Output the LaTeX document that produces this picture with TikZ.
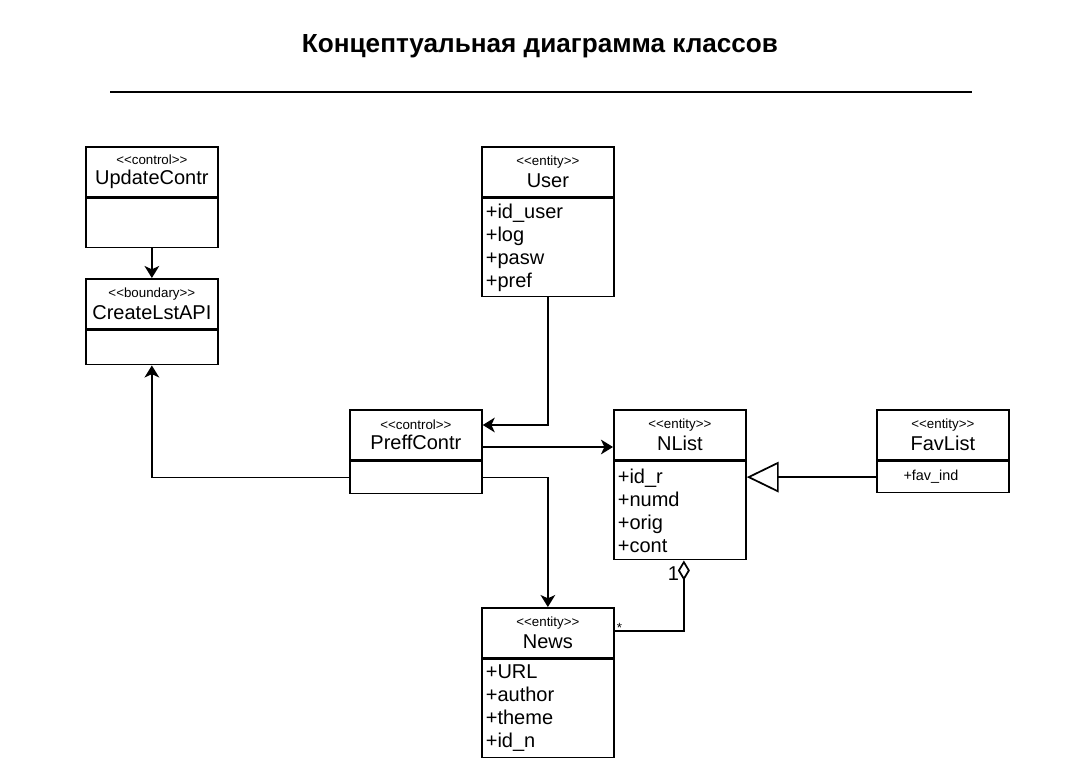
\documentclass[tikz,border=0pt]{standalone}
\usepackage{fontspec}
\setmainfont{Liberation Sans}
\newfontfamily\umlfont{Liberation Sans}
\usepackage{tikz}
\usetikzlibrary{arrows.meta, positioning, calc}

% class header: stereotype over class name
\newcommand{\umlhead}[2]{{\umlfont\fontsize{10}{12}\selectfont <<#1>>}\\[3pt]{\fontsize{15}{18}\selectfont #2}}

\begin{document}
\begin{tikzpicture}[
    x=0.75pt, y=-0.75pt,
    line width=1.3pt,
    head/.style={draw, rectangle, anchor=north west, minimum width=99pt,
      minimum height=37.5pt, align=center, inner sep=0pt},
    body/.style={draw, rectangle, minimum width=99pt, text width=93pt,
      inner xsep=3pt, inner ysep=0pt, align=left,
      font=\fontsize{15}{17.25}\selectfont},
    arrow/.style={-{Stealth[length=9pt, width=11pt, inset=2.5pt]}},
    inherit/.style={-{Triangle[open, length=24pt, width=23pt]}},
    aggr/.style={{Diamond[open, length=15pt, width=9pt]}-}
]
\useasboundingbox (0,0) rectangle (1080,773);

\node[font=\bfseries\fontsize{19.6}{22}\selectfont] (title) at (540,46)
  {Концептуальная диаграмма классов};
\draw (110,92) -- (972,92);

\node[head] (upd) at (85,146) {\umlhead{control}{UpdateContr}};
\node[body, minimum height=36.75pt, below=0pt of upd] (upd-b) {};

\node[head] (api) at (85,278) {\umlhead{boundary}{CreateLstAPI}};
\node[body, minimum height=25.5pt, below=0pt of api] (api-b) {};

\node[head] (user) at (481,146) {\umlhead{entity}{User}};
\node[body, minimum height=73.5pt, below=0pt of user] (user-b)
  {+id\_user\\+log\\+pasw\\+pref};

\node[head] (pref) at (349,409) {\umlhead{control}{PreffContr}};
\node[body, minimum height=24pt, below=0pt of pref] (pref-b) {};

\node[head] (nlist) at (613,409) {\umlhead{entity}{NList}};
\node[body, minimum height=73.5pt, below=0pt of nlist] (nlist-b)
  {+id\_r\\+numd\\+orig\\+cont};

\node[head] (fav) at (876,409) {\umlhead{entity}{FavList}};
\node[body, minimum height=23.25pt, below=0pt of fav, inner xsep=20pt,
  text width=59pt, font=\fontsize{10.8}{13}\selectfont] (fav-b) {+fav\_ind};

\node[head] (news) at (481,607) {\umlhead{entity}{News}};
\node[body, minimum height=73.5pt, below=0pt of news] (news-b)
  {+URL\\+author\\+theme\\+id\_n};

\draw[arrow] (upd-b) -- (api);
\draw[arrow] (pref-b.west) -| (api-b.south);
\draw[arrow] (user-b.south) |- ([yshift=-12pt]pref.north east);
\draw[arrow] ([yshift=-28.5pt]pref.north east) -- ([yshift=-28.5pt]nlist.north west);
\draw[arrow] (pref-b.east) -| (news.north);
\draw[inherit] (fav-b.west) -- (fav-b.west -| nlist-b.east);
\draw[aggr] ([xshift=3pt]nlist-b.south)
  node[anchor=north east, inner sep=0pt, xshift=-3pt, yshift=-4pt,
    font=\fontsize{15}{18}\selectfont] (one) {1}
  |- ([yshift=-18pt]news.north east)
  node[anchor=south west, inner sep=1pt, yshift=-3pt,
    font=\fontsize{10}{12}\selectfont] (many) {*};
\end{tikzpicture}
\end{document}
